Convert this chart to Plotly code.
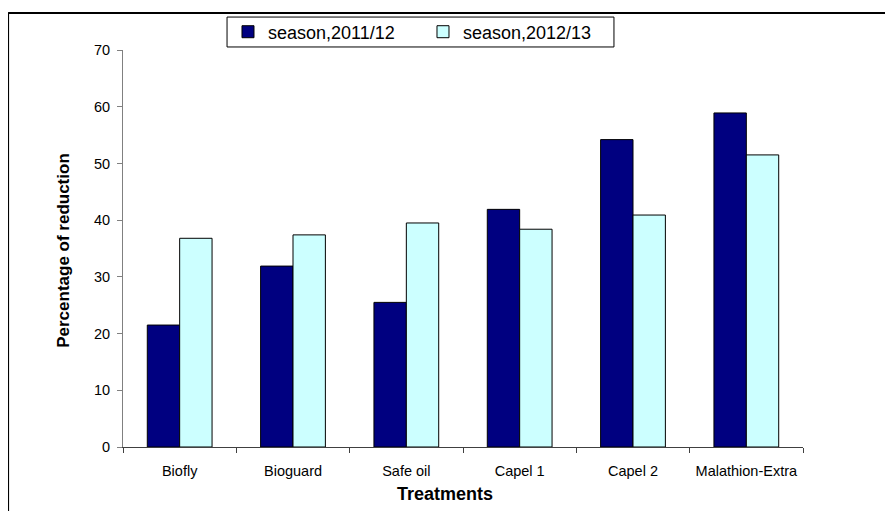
import plotly.graph_objects as go

treatments = ["Biofly", "Bioguard", "Safe oil", "Capel 1", "Capel 2", "Malathion-Extra"]
season_2011_12 = [21.5, 31.9, 25.5, 41.9, 54.2, 58.9]
season_2012_13 = [36.8, 37.4, 39.5, 38.4, 40.9, 51.5]
series_names = ["season,2011/12", "season,2012/13"]
y_ticks = [0, 10, 20, 30, 40, 50, 60, 70]

FONT = "Liberation Sans, Arial, sans-serif"

fig = go.Figure()
fig.add_trace(go.Bar(
    x=treatments, y=season_2011_12, name=series_names[0],
    marker=dict(color="#000080", line=dict(color="#000000", width=1)),
))
fig.add_trace(go.Bar(
    x=treatments, y=season_2012_13, name=series_names[1],
    marker=dict(color="#CCFFFF", line=dict(color="#000000", width=1)),
))

fig.update_layout(
    width=885, height=503,
    margin=dict(l=115, r=90, t=42, b=64, autoexpand=False),
    paper_bgcolor="white", plot_bgcolor="white",
    barmode="group", bargap=0.4286, bargroupgap=0,
    font=dict(family=FONT, size=14.5, color="#000000"),
    showlegend=True,
    legend=dict(
        orientation="h", x=0.1544, xanchor="left", y=1.0453, yanchor="middle",
        font=dict(family=FONT, size=18, color="#000000"),
        borderwidth=0, bgcolor="rgba(0,0,0,0)",
        traceorder="normal", entrywidth=150, entrywidthmode="pixels",
    ),
    xaxis=dict(
        type="category", tickson="boundaries", ticks="outside", ticklen=5,
        tickcolor="#404040", showline=True, linecolor="#404040", linewidth=1,
        showgrid=False, zeroline=False, ticklabelstandoff=11,
    ),
    yaxis=dict(
        range=[0, 70], tickvals=y_ticks, ticks="outside", ticklen=5,
        tickcolor="#808080", showline=True, linecolor="#808080", linewidth=1,
        showgrid=False, zeroline=False, ticklabelstandoff=4,
    ),
    annotations=[
        dict(text="<b>Treatments</b>", xref="paper", yref="paper", x=0.4735, y=-0.1175,
             xanchor="center", yanchor="middle", showarrow=False,
             font=dict(family=FONT, size=18, color="#000000")),
        dict(text="<b>Percentage of reduction</b>", xref="paper", yref="paper", x=-0.0868, y=0.4966,
             xanchor="center", yanchor="middle", showarrow=False, textangle=-90,
             font=dict(family=FONT, size=17, color="#000000")),
    ],
    shapes=[
        dict(type="rect", xref="paper", yref="paper", x0=0.153, x1=0.722, y0=1.0076, y1=1.083,
             line=dict(color="#000000", width=1), fillcolor="rgba(0,0,0,0)", layer="above"),
        dict(type="line", xref="paper", yref="paper", x0=-0.169, x1=-0.169, y0=-0.2, y1=1.093,
             line=dict(color="#000000", width=2)),
        dict(type="line", xref="paper", yref="paper", x0=-0.169, x1=1.2, y0=1.093, y1=1.093,
             line=dict(color="#000000", width=2)),
    ],
)

fig.write_html("out.html")
